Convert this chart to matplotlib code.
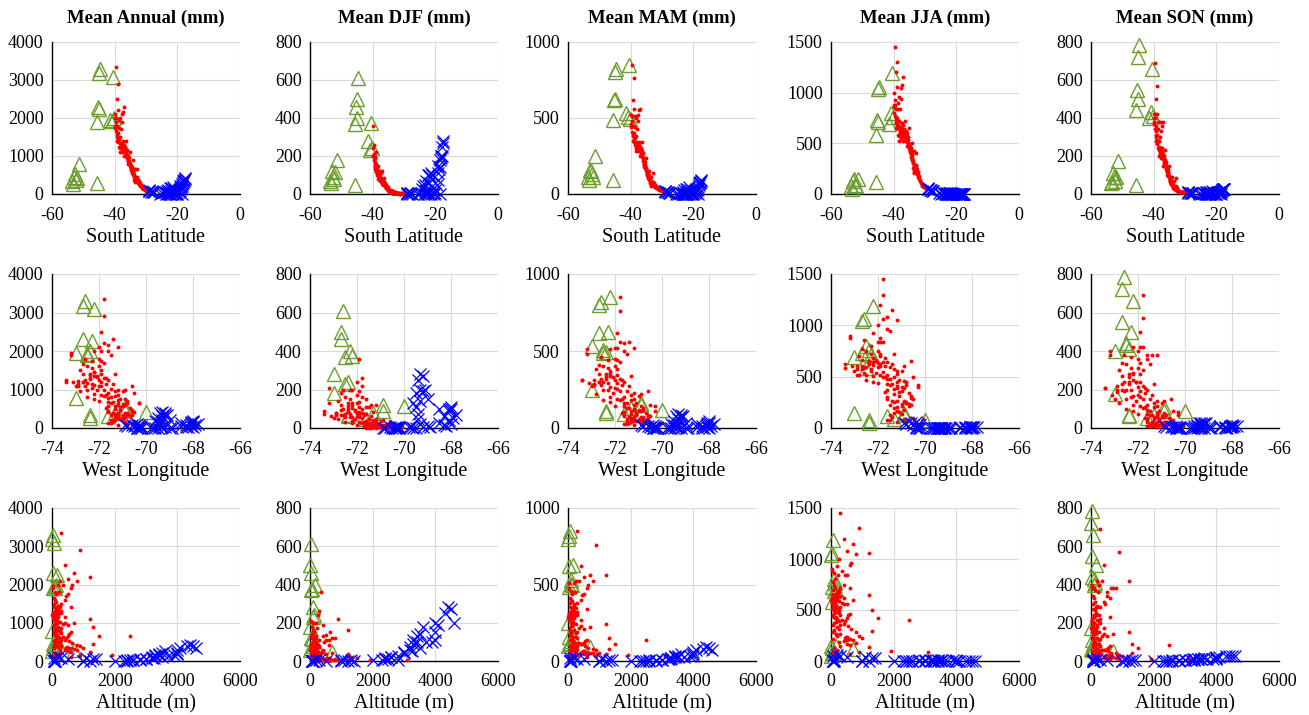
import matplotlib
matplotlib.use('Agg')
import matplotlib.pyplot as plt

plt.rcParams['font.family'] = ['Liberation Serif', 'DejaVu Serif']
plt.rcParams['axes.unicode_minus'] = False

# ---- station data: green = south, red = centre, blue = north ----
g_lat = [-44.6, -44.9, -40.6, -45.3, -45.0, -45.5, -41.6, -40.9, -40.2, -51.5,
         -45.6, -53.5, -53.3, -53.0, -52.7, -52.3, -52.0]
g_lon = [-72.6, -72.7, -72.2, -72.7, -72.3, -72.5, -73.0, -72.5, -72.4, -73.0,
         -71.6, -72.4, -72.4, -70.9, -70.9, -71.3, -70.0]
g_alt = [20, 10, 60, 30, 150, 40, 80, 100, 120, 10, 700, 30, 10, 20, 150, 100, 50]
g_ann = [3300, 3180, 3080, 2300, 2250, 1900, 1950, 1920, 2000, 780,
         300, 330, 260, 450, 520, 380, 420]
g_djf = [610, 500, 375, 460, 400, 370, 280, 230, 240, 180, 45, 70, 60, 120, 90, 80, 115]
g_mam = [820, 800, 850, 620, 625, 485, 530, 505, 495, 250, 90, 110, 95, 160, 150, 130, 115]
g_jja = [1060, 1040, 1190, 730, 710, 580, 690, 800, 760, 150, 120, 80, 50, 130, 150, 90, 80]
g_son = [785, 720, 660, 550, 500, 440, 400, 430, 410, 175, 50, 60, 65, 110, 90, 70, 90]

r_lat = [-30.0, -30.3, -30.6, -30.8, -31.2, -31.5, -31.8, -32.0, -32.2, -32.4,
         -32.6, -32.8, -32.9, -33.0, -33.2, -33.4, -33.5, -33.6, -33.7, -33.9,
         -34.0, -34.1, -34.2, -34.3, -34.4, -34.6, -34.7, -34.8, -34.9, -35.0,
         -35.1, -35.2, -35.4, -35.5, -35.6, -35.8, -35.9, -36.0, -36.1, -36.2,
         -36.3, -36.5, -36.6, -36.7, -36.8, -36.9, -37.0, -37.1, -37.2, -37.3,
         -37.4, -37.5, -37.6, -37.7, -37.8, -37.9, -38.0, -38.1, -38.2, -38.3,
         -38.4, -38.5, -38.6, -38.7, -38.8, -38.9, -39.0, -39.1, -39.2, -39.3,
         -39.4, -39.5, -39.6, -39.7, -39.8, -39.9, -40.0, -33.0, -30.5, -30.2,
         -31.0, -31.6, -32.1, -32.5, -33.1, -33.3, -33.8, -34.2, -34.5, -34.8,
         -35.3, -35.7, -36.1, -36.4, -36.8, -37.2, -37.6, -37.9, -38.3, -38.9,
         -39.3, -36.5, -35.6, -33.6, -34.0, -33.4, -33.5, -33.6, -33.8, -34.0,
         -34.2, -34.4, -34.6, -34.7, -34.9, -35.0, -35.2, -35.4, -35.5, -35.8,
         -35.9, -36.0, -36.3, -36.6, -36.9, -37.0, -37.3, -37.5, -37.8, -38.0,
         -38.4, -38.6, -38.8, -39.0, -39.4, -39.6, -39.8, -31.9, -32.3, -32.7]
r_lon = [-71.2, -70.8, -71.5, -70.9, -71.4, -71.0, -71.3, -70.9, -71.5, -70.7,
         -71.2, -71.4, -70.6, -71.6, -70.8, -70.6, -70.3, -71.6, -70.9, -71.3,
         -70.5, -71.0, -71.7, -70.8, -71.2, -71.4, -70.9, -72.0, -71.2, -71.5,
         -70.6, -72.2, -71.7, -71.0, -72.5, -71.6, -71.2, -72.8, -71.8, -71.4,
         -72.3, -72.0, -73.0, -71.6, -73.1, -72.5, -71.4, -72.7, -71.8, -72.3,
         -71.6, -73.4, -71.2, -72.1, -72.6, -71.8, -73.4, -72.4, -71.9, -72.9,
         -71.6, -72.2, -73.2, -72.6, -71.8, -72.0, -71.8, -72.4, -72.8, -71.9,
         -72.5, -71.8, -72.2, -73.2, -72.0, -72.6, -71.9, -70.3, -70.5, -70.1,
         -71.6, -71.5, -71.2, -71.0, -71.3, -71.0, -71.1, -71.3, -71.0, -71.5,
         -71.3, -71.9, -72.1, -71.7, -71.9, -72.5, -72.4, -72.9, -72.2, -72.7,
         -72.3, -71.3, -70.9, -70.5, -70.7, -70.7, -70.8, -71.2, -70.6, -71.1,
         -70.9, -71.6, -70.8, -71.2, -71.6, -71.1, -71.6, -71.2, -71.8, -71.3,
         -72.2, -71.5, -71.9, -72.2, -71.7, -72.9, -71.9, -72.0, -71.5, -72.1,
         -72.7, -71.9, -72.4, -72.2, -72.0, -72.7, -72.3, -71.1, -71.3, -70.8]
r_alt = [100, 600, 50, 900, 200, 1200, 300, 800, 50, 1000,
         400, 150, 1300, 50, 500, 600, 1500, 100, 300, 200,
         1300, 400, 50, 500, 250, 150, 600, 50, 300, 150,
         1200, 50, 100, 500, 80, 200, 400, 50, 150, 400,
         100, 120, 20, 300, 10, 80, 700, 50, 300, 100,
         500, 30, 800, 150, 70, 450, 20, 100, 300, 50,
         650, 200, 30, 100, 1200, 400, 900, 150, 60, 400,
         100, 300, 200, 20, 250, 100, 350, 2500, 1900, 3100,
         30, 80, 500, 700, 200, 450, 250, 150, 350, 120,
         250, 100, 130, 200, 180, 80, 90, 40, 150, 60,
         120, 600, 700, 800, 550, 520, 480, 150, 650, 300,
         450, 100, 550, 200, 90, 250, 120, 300, 90, 350,
         60, 250, 150, 90, 260, 40, 250, 200, 600, 180,
         80, 500, 130, 180, 230, 70, 120, 600, 250, 900]
r_ann = [90, 110, 130, 150, 170, 230, 220, 280, 330, 350,
         300, 400, 450, 420, 350, 330, 650, 450, 380, 500,
         900, 560, 520, 650, 600, 680, 750, 700, 720, 800,
         1100, 750, 850, 950, 800, 900, 1000, 950, 1000, 1150,
         1050, 1100, 1100, 1250, 1200, 1000, 2300, 1200, 1300, 1150,
         2150, 1250, 2100, 1350, 1100, 1700, 1200, 1300, 1500, 1100,
         2000, 1450, 1950, 1250, 2200, 1600, 2900, 1400, 1500, 2500,
         1600, 3350, 2000, 1900, 2100, 1800, 2000, 650, 150, 150,
         120, 200, 260, 310, 370, 340, 460, 580, 620, 650,
         820, 870, 980, 1150, 1200, 1180, 1280, 1230, 1350, 1400,
         1550, 1400, 1000, 420, 520, 310, 360, 390, 470, 540,
         600, 560, 700, 640, 680, 760, 780, 870, 820, 960,
         880, 1020, 1080, 1120, 1300, 1150, 1400, 1250, 1900, 1320,
         1200, 1750, 1380, 1450, 1800, 1650, 1750, 240, 290, 380]
r_djf = [2, 2, 3, 3, 2, 4, 3, 4, 5, 6,
         4, 6, 8, 5, 5, 6, 15, 7, 6, 8,
         20, 10, 8, 12, 10, 15, 18, 15, 20, 25,
         35, 25, 30, 35, 30, 35, 45, 45, 50, 60,
         55, 60, 50, 75, 60, 55, 120, 70, 80, 75,
         110, 75, 120, 90, 70, 100, 90, 100, 110, 80,
         150, 120, 130, 100, 160, 130, 220, 130, 140, 190,
         160, 260, 200, 210, 240, 200, 360, 10, 3, 5,
         1, 2, 3, 4, 5, 5, 7, 10, 12, 15,
         28, 32, 48, 65, 70, 75, 85, 80, 105, 120,
         150, 85, 40, 8, 10, 5, 6, 6, 8, 9,
         11, 10, 14, 13, 17, 22, 25, 30, 28, 40,
         38, 48, 55, 58, 75, 65, 85, 80, 110, 95,
         95, 135, 115, 130, 170, 180, 200, 3, 4, 6]
r_mam = [20, 25, 28, 30, 35, 45, 40, 50, 60, 55,
         50, 70, 80, 75, 65, 60, 110, 85, 70, 90,
         150, 110, 100, 120, 115, 130, 140, 140, 150, 160,
         240, 170, 190, 210, 180, 200, 230, 220, 240, 270,
         250, 260, 270, 300, 290, 250, 560, 300, 320, 290,
         550, 310, 520, 330, 280, 430, 310, 330, 380, 280,
         500, 370, 510, 320, 560, 400, 760, 350, 380, 620,
         400, 850, 510, 480, 520, 460, 520, 140, 40, 30,
         25, 40, 48, 55, 65, 60, 85, 110, 120, 130,
         180, 190, 230, 280, 290, 300, 320, 310, 340, 350,
         390, 340, 220, 80, 100, 55, 65, 70, 85, 100,
         110, 105, 130, 125, 140, 160, 165, 190, 180, 215,
         200, 240, 255, 265, 310, 285, 345, 310, 480, 330,
         300, 440, 345, 360, 450, 410, 440, 45, 52, 70]
r_jja = [55, 65, 80, 90, 110, 140, 150, 180, 220, 230,
         200, 260, 290, 280, 240, 220, 420, 300, 260, 330,
         500, 360, 350, 420, 390, 430, 460, 440, 450, 480,
         650, 450, 500, 560, 470, 520, 560, 520, 550, 620,
         560, 590, 560, 640, 600, 520, 1150, 600, 640, 570,
         1080, 620, 1050, 660, 540, 840, 580, 620, 720, 520,
         960, 680, 900, 580, 1060, 750, 1300, 650, 700, 1200,
         750, 1450, 930, 880, 1000, 860, 880, 400, 100, 90,
         75, 130, 170, 210, 250, 230, 310, 380, 400, 420,
         500, 520, 540, 600, 620, 590, 630, 600, 640, 660,
         720, 720, 600, 280, 340, 210, 240, 260, 310, 350,
         390, 370, 450, 410, 430, 470, 480, 530, 500, 570,
         510, 590, 600, 610, 680, 570, 700, 630, 940, 650,
         570, 840, 650, 680, 840, 770, 800, 160, 190, 250]
r_son = [6, 8, 8, 10, 10, 12, 12, 15, 20, 25,
         18, 30, 40, 30, 25, 30, 70, 40, 30, 45,
         90, 55, 50, 65, 55, 70, 80, 75, 80, 90,
         150, 90, 110, 130, 100, 120, 140, 130, 150, 170,
         160, 170, 150, 200, 170, 150, 380, 200, 220, 200,
         360, 210, 380, 240, 190, 300, 210, 240, 280, 200,
         380, 280, 380, 240, 420, 310, 570, 280, 300, 500,
         330, 690, 420, 400, 400, 380, 420, 85, 8, 10,
         8, 12, 15, 20, 28, 26, 40, 55, 60, 70,
         110, 115, 140, 180, 190, 200, 230, 220, 250, 270,
         310, 230, 140, 40, 50, 25, 30, 32, 40, 48,
         55, 52, 70, 65, 75, 90, 95, 115, 105, 130,
         120, 150, 160, 165, 210, 185, 240, 215, 330, 240,
         230, 340, 265, 285, 360, 340, 370, 14, 18, 30]

b_lat = [-29.2, -28.9, -28.5, -28.1, -27.8, -27.4, -29.0, -25.4, -24.8, -23.6,
         -22.5, -20.5, -18.5, -22.9, -21.5, -20.2, -22.4, -23.3, -22.6, -22.9,
         -24.2, -23.9, -22.1, -21.8, -23.4, -22.3, -23.0, -21.0, -22.0, -21.3,
         -19.6, -19.3, -19.1, -18.9, -18.6, -18.4, -18.2, -18.1, -17.9, -17.7,
         -17.6, -18.0, -19.2, -20.8, -21.9, -20.0]
b_lon = [-70.9, -70.6, -70.8, -70.3, -70.2, -70.5, -70.4, -70.4, -69.2, -70.4,
         -70.2, -70.2, -70.3, -69.5, -69.6, -69.8, -68.9, -68.3, -68.2, -68.0,
         -68.5, -68.1, -68.3, -68.1, -67.9, -68.0, -67.8, -68.5, -68.1, -68.0,
         -69.4, -69.4, -69.5, -69.6, -69.3, -69.5, -69.3, -69.2, -69.4, -69.3,
         -69.2, -69.1, -69.0, -69.7, -69.0, -69.3]
b_alt = [50, 300, 500, 1100, 1300, 1400, 200, 100, 2800, 100,
         50, 50, 50, 1000, 1200, 1000, 2300, 2400, 2500, 2600,
         2800, 3000, 3200, 3300, 3250, 3400, 3500, 3700, 3900, 4000,
         3000, 3200, 3300, 3400, 3500, 3600, 4000, 4100, 4300, 4400,
         4500, 4600, 4000, 2000, 2400, 2600]
b_ann = [90, 80, 60, 70, 50, 40, 100, 10, 15, 2,
         1, 1, 1, 3, 5, 8, 10, 25, 20, 30,
         40, 60, 90, 120, 80, 150, 110, 140, 150, 180,
         60, 100, 150, 180, 200, 260, 300, 330, 380, 420,
         400, 350, 200, 5, 12, 30]
b_djf = [2, 3, 1, 5, 4, 2, 3, 0, 5, 0,
         0, 0, 0, 1, 2, 4, 6, 15, 12, 20,
         25, 40, 60, 90, 50, 100, 70, 100, 100, 110,
         45, 75, 110, 130, 140, 180, 200, 190, 250, 280,
         270, 200, 150, 3, 8, 22]
b_mam = [20, 15, 12, 10, 8, 7, 18, 2, 3, 1,
         0, 0, 0, 0, 1, 1, 1, 3, 2, 3,
         5, 8, 15, 20, 15, 30, 25, 25, 35, 45,
         8, 12, 20, 25, 35, 45, 60, 70, 80, 90,
         85, 75, 30, 1, 2, 4]
b_jja = [50, 45, 35, 40, 30, 25, 55, 6, 4, 1,
         1, 0, 0, 0, 0, 0, 1, 2, 2, 3,
         5, 5, 5, 3, 6, 5, 6, 4, 5, 5,
         1, 1, 2, 2, 2, 2, 3, 3, 3, 4,
         4, 3, 2, 0, 1, 1]
b_son = [8, 6, 5, 6, 4, 3, 10, 1, 1, 0,
         0, 0, 0, 0, 0, 1, 1, 2, 2, 3,
         3, 5, 6, 7, 8, 10, 8, 8, 12, 15,
         3, 5, 8, 10, 12, 15, 20, 22, 25, 25,
         28, 25, 10, 0, 1, 2]

titles = ['Mean Annual (mm)', 'Mean DJF (mm)', 'Mean MAM (mm)', 'Mean JJA (mm)', 'Mean SON (mm)']
xlabels = ['South Latitude', 'West Longitude', 'Altitude (m)']
xticks = [[-60, -40, -20, 0], [-74, -72, -70, -68, -66], [0, 2000, 4000, 6000]]
yticks = [[0, 1000, 2000, 3000, 4000], [0, 200, 400, 600, 800], [0, 500, 1000],
          [0, 500, 1000, 1500], [0, 200, 400, 600, 800]]

green_x = [g_lat, g_lon, g_alt]
red_x = [r_lat, r_lon, r_alt]
blue_x = [b_lat, b_lon, b_alt]
green_y = [g_ann, g_djf, g_mam, g_jja, g_son]
red_y = [r_ann, r_djf, r_mam, r_jja, r_son]
blue_y = [b_ann, b_djf, b_mam, b_jja, b_son]

W, H = 1309, 715
fig = plt.figure(figsize=(W / 100, H / 100), dpi=100)
lefts = [52, 310, 568, 831, 1091]
rows = [(42, 194), (274, 428), (508, 661)]
green = '#6B9E2E'

for r in range(3):
    top, bot = rows[r]
    for c in range(5):
        ax = fig.add_axes([lefts[c] / W, 1 - bot / H, 188 / W, (bot - top) / H])
        ax.plot(green_x[r], green_y[c], '^', mfc='none', mec=green, ms=9.5, mew=1.0,
                clip_on=False, zorder=3)
        ax.plot(red_x[r], red_y[c], 'o', color='red', ms=2.8, mew=0,
                clip_on=False, zorder=4)
        ax.plot(blue_x[r], blue_y[c], 'x', color='blue', ms=8, mew=0.9,
                clip_on=False, zorder=5)
        ax.set_xlim(xticks[r][0], xticks[r][-1])
        ax.set_ylim(0, yticks[c][-1])
        ax.set_xticks(xticks[r])
        ax.set_yticks(yticks[c])
        ax.grid(True, color='#d9d9d9', lw=0.8)
        ax.set_axisbelow(True)
        for s in ['top', 'right']:
            ax.spines[s].set_visible(False)
        for s in ['left', 'bottom']:
            ax.spines[s].set_linewidth(1.0)
        ax.tick_params(length=0, labelsize=13)
        ax.tick_params(axis='x', pad=9)
        ax.tick_params(axis='y', pad=6)
        ax.set_xlabel(xlabels[r], fontsize=14.5, labelpad=3)
        if r == 0:
            ax.set_title(titles[c], fontsize=13.5, fontweight='bold', pad=14)

fig.savefig('out.png', dpi=100)
